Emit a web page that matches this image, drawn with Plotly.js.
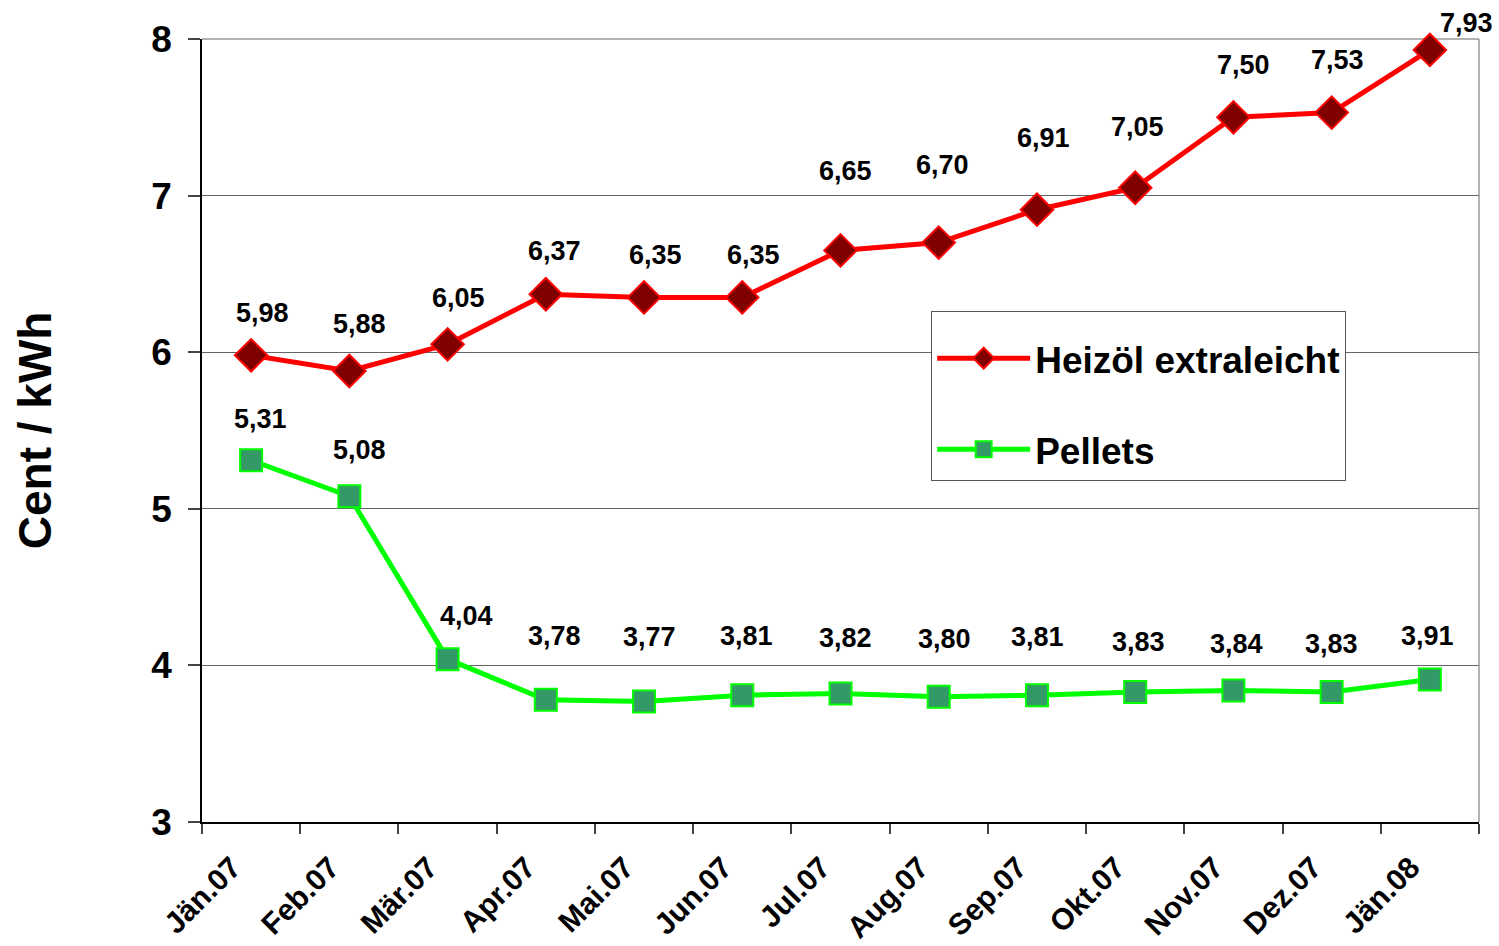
<!DOCTYPE html>
<html>
<head>
<meta charset="utf-8">
<script src="https://cdn.plot.ly/plotly-3.0.1.min.js"></script>
<style>html,body{margin:0;padding:0;background:#fff;}#chart{width:1499px;height:946px;}</style>
</head>
<body>
<div id="chart"></div>
<script>
const categories = ["Jän.07","Feb.07","Mär.07","Apr.07","Mai.07","Jun.07","Jul.07","Aug.07","Sep.07","Okt.07","Nov.07","Dez.07","Jän.08"];
const heizoel = [5.98,5.88,6.05,6.37,6.35,6.35,6.65,6.70,6.91,7.05,7.50,7.53,7.93];
const pellets = [5.31,5.08,4.04,3.78,3.77,3.81,3.82,3.80,3.81,3.83,3.84,3.83,3.91];
const yTicks = [3,4,5,6,7,8];

// label placement offsets in pixels (presentation only)
const heizoelLabelDx = [11,10,11,9,11,11,5,4,7,2,10,6,37];
const heizoelLabelDy = [42,47,46,43,42,42,79,78,72,61,52,53,27];
const pelletsLabelDx = [9,10,19,9,5,4,5,6,1,3,3,0,-2];
const pelletsLabelDy = [41,46,43,64,64,59,56,58,58,50,46,48,43];

const FONT = "Liberation Sans, Arial, sans-serif";
const fmt = v => v.toFixed(2).replace('.', ',');

const traces = [
  {
    x: categories, y: heizoel, name: "Heizöl extraleicht", type: "scatter", mode: "lines+markers",
    line: {color: "#FF0000", width: 5},
    marker: {symbol: "diamond", size: 25, color: "#800000", line: {color: "#FF0000", width: 2}},
    legendgroup: "a", cliponaxis: false
  },
  {
    x: categories, y: pellets, name: "Pellets", type: "scatter", mode: "lines+markers",
    line: {color: "#00FF00", width: 5},
    marker: {symbol: "square", size: 22, color: "#339966", line: {color: "#00FF00", width: 2}},
    legendgroup: "b", cliponaxis: false
  }
];

const labelFont = {family: FONT, size: 27, color: "#000", weight: "bold"};
const annotations = [];
heizoel.forEach((v, i) => {
  annotations.push({x: categories[i], y: v, xref: "x", yref: "y", text: fmt(v), showarrow: false,
    xshift: heizoelLabelDx[i], yshift: heizoelLabelDy[i], font: labelFont});
});
pellets.forEach((v, i) => {
  annotations.push({x: categories[i], y: v, xref: "x", yref: "y", text: fmt(v), showarrow: false,
    xshift: pelletsLabelDx[i], yshift: pelletsLabelDy[i], font: labelFont});
});
annotations.push({xref: "paper", yref: "paper", x: -0.131, y: 0.5, xanchor: "center", yanchor: "middle",
  text: "Cent / kWh", textangle: -90, showarrow: false,
  font: {family: FONT, size: 46, color: "#000", weight: "bold"}});

const layout = {
  width: 1499, height: 946,
  margin: {l: 202, r: 20, t: 39, b: 124},
  paper_bgcolor: "#fff", plot_bgcolor: "#fff",
  font: {family: FONT, color: "#000"},
  showlegend: true,
  legend: {
    x: 0.571, y: 0.6526, xanchor: "left", yanchor: "top",
    bgcolor: "#fff", bordercolor: "#555", borderwidth: 1,
    font: {family: FONT, size: 37, color: "#000", weight: "bold"},
    title: {text: " ", font: {family: FONT, size: 12}},
    traceorder: "grouped", tracegroupgap: 40, itemwidth: 93
  },
  xaxis: {
    type: "category", tickmode: "array", tickvals: categories, ticktext: categories,
    tickson: "boundaries", ticks: "outside", ticklen: 10, tickcolor: "#444", tickwidth: 1.5,
    tickangle: -45, showline: true, linecolor: "#000", linewidth: 1.5,
    showgrid: false, zeroline: false, range: [-0.5, 12.5],
    ticklabelstandoff: 14, ticklabelshift: -19,
    tickfont: {family: FONT, size: 30, color: "#000", weight: "bold"}
  },
  yaxis: {
    range: [3, 8], tickmode: "array", tickvals: yTicks, ticktext: yTicks.map(String),
    ticks: "outside", ticklen: 12, tickcolor: "#444", tickwidth: 1.5,
    showline: true, linecolor: "#000", linewidth: 1.5,
    showgrid: true, gridcolor: "#666", gridwidth: 1, zeroline: false,
    ticklabelstandoff: 9,
    tickfont: {family: FONT, size: 37, color: "#000", weight: "bold"}
  },
  shapes: [
    {type: "line", xref: "paper", yref: "paper", x0: 0, x1: 1, y0: 1, y1: 1, line: {color: "#999", width: 1.5}, layer: "below"},
    {type: "line", xref: "paper", yref: "paper", x0: 1, x1: 1, y0: 0, y1: 1, line: {color: "#999", width: 1.5}, layer: "below"}
  ],
  annotations: annotations
};

Plotly.newPlot("chart", traces, layout, {displayModeBar: false, responsive: false});
</script>
</body>
</html>
